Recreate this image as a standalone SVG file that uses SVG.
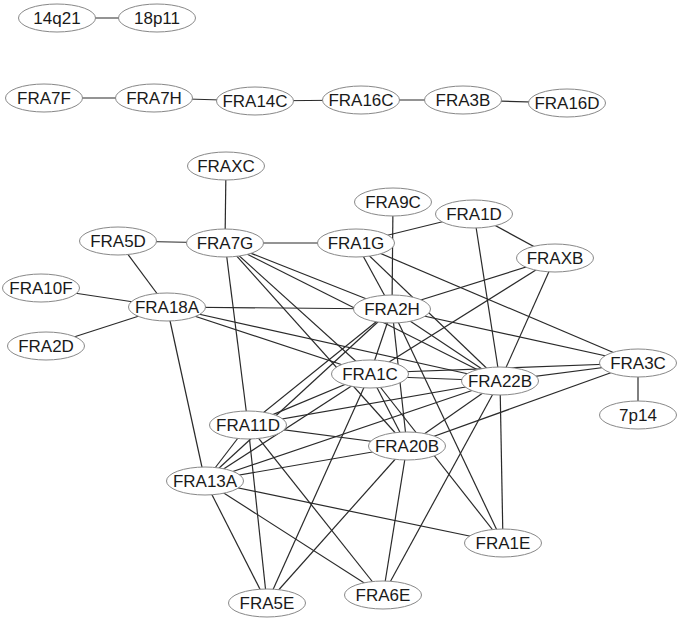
<svg xmlns="http://www.w3.org/2000/svg" width="685" height="622" viewBox="0 0 685 622">
<style>
.e line{stroke:#2a2a2a;stroke-width:1.2;fill:none}
.n ellipse{fill:#fff;stroke:#888;stroke-width:1}
.n text{font-family:"Liberation Sans",Arial,sans-serif;font-size:17px;fill:#1a1a1a;text-anchor:middle}
</style>
<rect width="685" height="622" fill="#fff"/>
<g id="edges" class="e">
<line x1="57" y1="18" x2="157" y2="18"/>
<line x1="44" y1="98" x2="154" y2="98"/>
<line x1="154" y1="98" x2="255" y2="101"/>
<line x1="255" y1="101" x2="361" y2="100"/>
<line x1="361" y1="100" x2="463" y2="100"/>
<line x1="463" y1="100" x2="567" y2="103"/>
<line x1="226" y1="166" x2="225" y2="243"/>
<line x1="118" y1="241" x2="225" y2="243"/>
<line x1="225" y1="243" x2="356" y2="243"/>
<line x1="393" y1="202" x2="392" y2="309"/>
<line x1="474" y1="214" x2="356" y2="243"/>
<line x1="474" y1="214" x2="555" y2="258"/>
<line x1="474" y1="214" x2="500" y2="381"/>
<line x1="118" y1="241" x2="167" y2="307"/>
<line x1="41" y1="288" x2="167" y2="307"/>
<line x1="46" y1="346" x2="167" y2="307"/>
<line x1="167" y1="307" x2="392" y2="309"/>
<line x1="167" y1="307" x2="370" y2="374"/>
<line x1="167" y1="307" x2="500" y2="381"/>
<line x1="167" y1="307" x2="205" y2="481"/>
<line x1="225" y1="243" x2="392" y2="309"/>
<line x1="225" y1="243" x2="500" y2="381"/>
<line x1="225" y1="243" x2="370" y2="374"/>
<line x1="225" y1="243" x2="407" y2="446"/>
<line x1="225" y1="243" x2="248" y2="425"/>
<line x1="356" y1="243" x2="392" y2="309"/>
<line x1="356" y1="243" x2="500" y2="381"/>
<line x1="356" y1="243" x2="638" y2="363"/>
<line x1="555" y1="258" x2="392" y2="309"/>
<line x1="555" y1="258" x2="370" y2="374"/>
<line x1="555" y1="258" x2="500" y2="381"/>
<line x1="392" y1="309" x2="638" y2="363"/>
<line x1="392" y1="309" x2="500" y2="381"/>
<line x1="392" y1="309" x2="370" y2="374"/>
<line x1="392" y1="309" x2="407" y2="446"/>
<line x1="392" y1="309" x2="503" y2="543"/>
<line x1="392" y1="309" x2="248" y2="425"/>
<line x1="392" y1="309" x2="205" y2="481"/>
<line x1="370" y1="376" x2="500" y2="381"/>
<line x1="370" y1="373" x2="638" y2="363"/>
<line x1="500" y1="381" x2="638" y2="363"/>
<line x1="638" y1="363" x2="407" y2="446"/>
<line x1="638" y1="363" x2="638" y2="415"/>
<line x1="370" y1="374" x2="248" y2="425"/>
<line x1="370" y1="374" x2="205" y2="481"/>
<line x1="370" y1="374" x2="407" y2="446"/>
<line x1="370" y1="374" x2="267" y2="603"/>
<line x1="370" y1="374" x2="503" y2="543"/>
<line x1="500" y1="381" x2="248" y2="425"/>
<line x1="500" y1="381" x2="205" y2="481"/>
<line x1="500" y1="381" x2="407" y2="446"/>
<line x1="500" y1="381" x2="383" y2="595"/>
<line x1="500" y1="381" x2="503" y2="543"/>
<line x1="248" y1="425" x2="407" y2="446"/>
<line x1="248" y1="425" x2="205" y2="481"/>
<line x1="248" y1="425" x2="267" y2="603"/>
<line x1="248" y1="425" x2="383" y2="595"/>
<line x1="205" y1="481" x2="407" y2="446"/>
<line x1="205" y1="481" x2="503" y2="543"/>
<line x1="205" y1="481" x2="267" y2="603"/>
<line x1="205" y1="481" x2="383" y2="595"/>
<line x1="407" y1="446" x2="267" y2="603"/>
<line x1="407" y1="446" x2="383" y2="595"/>
</g>
<g id="n_14q21" class="n"><ellipse cx="57" cy="18" rx="38.5" ry="14"/><text x="57" y="24">14q21</text></g>
<g id="n_18p11" class="n"><ellipse cx="157" cy="18" rx="38.5" ry="14"/><text x="157" y="24">18p11</text></g>
<g id="n_FRA7F" class="n"><ellipse cx="44" cy="98" rx="38.5" ry="14"/><text x="44" y="104">FRA7F</text></g>
<g id="n_FRA7H" class="n"><ellipse cx="154" cy="98" rx="38.5" ry="14"/><text x="154" y="104">FRA7H</text></g>
<g id="n_FRA14C" class="n"><ellipse cx="255" cy="101" rx="38.5" ry="14"/><text x="255" y="107">FRA14C</text></g>
<g id="n_FRA16C" class="n"><ellipse cx="361" cy="100" rx="38.5" ry="14"/><text x="361" y="106">FRA16C</text></g>
<g id="n_FRA3B" class="n"><ellipse cx="463" cy="100" rx="38.5" ry="14"/><text x="463" y="106">FRA3B</text></g>
<g id="n_FRA16D" class="n"><ellipse cx="567" cy="103" rx="38.5" ry="14"/><text x="567" y="109">FRA16D</text></g>
<g id="n_FRAXC" class="n"><ellipse cx="226" cy="166" rx="38.5" ry="14"/><text x="226" y="172">FRAXC</text></g>
<g id="n_FRA9C" class="n"><ellipse cx="393" cy="202" rx="38.5" ry="14"/><text x="393" y="208">FRA9C</text></g>
<g id="n_FRA1D" class="n"><ellipse cx="474" cy="214" rx="38.5" ry="14"/><text x="474" y="220">FRA1D</text></g>
<g id="n_FRA5D" class="n"><ellipse cx="118" cy="241" rx="38.5" ry="14"/><text x="118" y="247">FRA5D</text></g>
<g id="n_FRA7G" class="n"><ellipse cx="225" cy="243" rx="38.5" ry="14"/><text x="225" y="249">FRA7G</text></g>
<g id="n_FRA1G" class="n"><ellipse cx="356" cy="243" rx="38.5" ry="14"/><text x="356" y="249">FRA1G</text></g>
<g id="n_FRAXB" class="n"><ellipse cx="555" cy="258" rx="38.5" ry="14"/><text x="555" y="264">FRAXB</text></g>
<g id="n_FRA10F" class="n"><ellipse cx="41" cy="288" rx="38.5" ry="14"/><text x="41" y="294">FRA10F</text></g>
<g id="n_FRA18A" class="n"><ellipse cx="167" cy="307" rx="38.5" ry="14"/><text x="167" y="313">FRA18A</text></g>
<g id="n_FRA2D" class="n"><ellipse cx="46" cy="346" rx="38.5" ry="14"/><text x="46" y="352">FRA2D</text></g>
<g id="n_FRA2H" class="n"><ellipse cx="392" cy="309" rx="38.5" ry="14"/><text x="392" y="315">FRA2H</text></g>
<g id="n_FRA3C" class="n"><ellipse cx="638" cy="363" rx="38.5" ry="14"/><text x="638" y="369">FRA3C</text></g>
<g id="n_FRA1C" class="n"><ellipse cx="370" cy="374" rx="38.5" ry="14"/><text x="370" y="380">FRA1C</text></g>
<g id="n_FRA22B" class="n"><ellipse cx="500" cy="381" rx="38.5" ry="14"/><text x="500" y="387">FRA22B</text></g>
<g id="n_7p14" class="n"><ellipse cx="638" cy="415" rx="38.5" ry="14"/><text x="638" y="421">7p14</text></g>
<g id="n_FRA11D" class="n"><ellipse cx="248" cy="425" rx="38.5" ry="14"/><text x="248" y="431">FRA11D</text></g>
<g id="n_FRA20B" class="n"><ellipse cx="407" cy="446" rx="38.5" ry="14"/><text x="407" y="452">FRA20B</text></g>
<g id="n_FRA13A" class="n"><ellipse cx="205" cy="481" rx="38.5" ry="14"/><text x="205" y="487">FRA13A</text></g>
<g id="n_FRA1E" class="n"><ellipse cx="503" cy="543" rx="38.5" ry="14"/><text x="503" y="549">FRA1E</text></g>
<g id="n_FRA6E" class="n"><ellipse cx="383" cy="595" rx="38.5" ry="14"/><text x="383" y="601">FRA6E</text></g>
<g id="n_FRA5E" class="n"><ellipse cx="267" cy="603" rx="38.5" ry="14"/><text x="267" y="609">FRA5E</text></g>
</svg>
